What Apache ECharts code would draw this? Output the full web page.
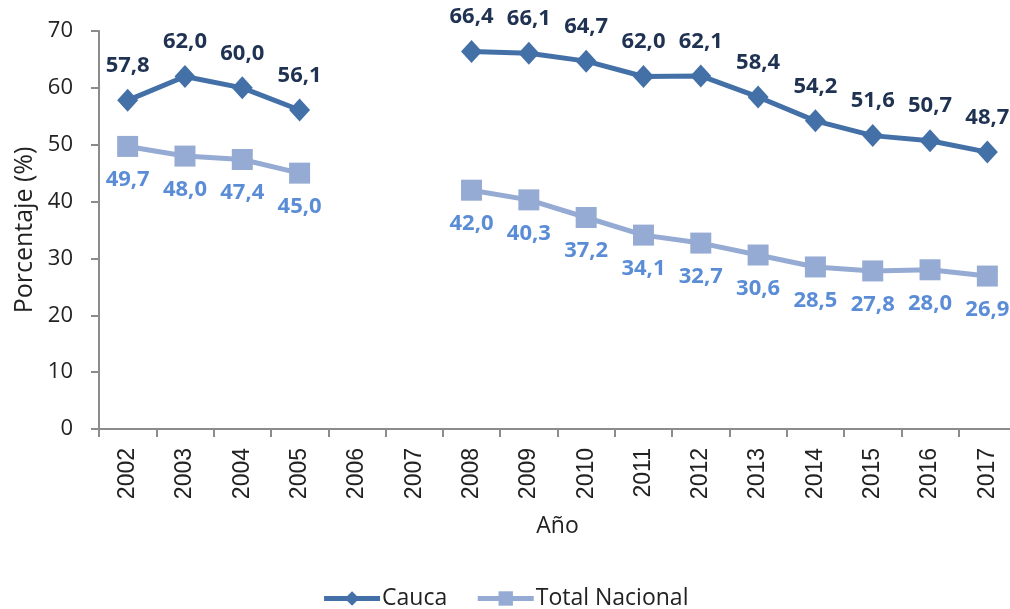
<!DOCTYPE html>
<html>
<head>
<meta charset="utf-8">
<script src="https://cdn.jsdelivr.net/npm/echarts@6/dist/echarts.min.js"></script>
<style>
  html, body { margin: 0; padding: 0; background: #fff; }
  #chart { width: 1010px; height: 609px; }
</style>
</head>
<body>
<div id="chart"></div>
<script>
var years = ['2002', '2003', '2004', '2005', '2006', '2007', '2008', '2009', '2010', '2011', '2012', '2013', '2014', '2015', '2016', '2017'];
var cauca = [57.8, 62.0, 60.0, 56.1, null, null, 66.4, 66.1, 64.7, 62.0, 62.1, 58.4, 54.2, 51.6, 50.7, 48.7];
var nacional = [49.7, 48.0, 47.4, 45.0, null, null, 42.0, 40.3, 37.2, 34.1, 32.7, 30.6, 28.5, 27.8, 28.0, 26.9];

var chartDom = document.getElementById('chart');
var myChart = echarts.init(chartDom);
var option;

var fontName = 'Open Sans';
function fmt(p) { return p.value == null ? '' : p.value.toFixed(1).replace('.', ','); }

option = {
  animation: false,
  textStyle: { fontFamily: fontName },
  grid: { left: 99, top: 31, width: 917, height: 398, outerBoundsMode: 'none', containLabel: false },
  legend: {
    top: 582,
    left: 'center',
    itemWidth: 56,
    itemHeight: 18,
    itemGap: 28,
    lineStyle: { width: 5 },
    textStyle: { fontSize: 23, color: '#222', padding: [0, 0, 0, -3] },
    data: ['Cauca', 'Total Nacional']
  },
  xAxis: {
    type: 'category',
    data: years,
    name: 'Año',
    nameLocation: 'middle',
    nameGap: 86,
    nameTextStyle: { fontSize: 23, color: '#222' },
    axisLine: { lineStyle: { color: '#8c8c8c', width: 2 } },
    axisTick: { show: true, length: 8, lineStyle: { color: '#8c8c8c', width: 2 } },
    axisLabel: { rotate: 90, fontSize: 23, color: '#222', margin: 19, fontFamily: 'Liberation Sans' }
  },
  yAxis: {
    type: 'value',
    min: 0,
    max: 70,
    interval: 10,
    name: 'Porcentaje (%)',
    nameLocation: 'middle',
    nameGap: 56,
    nameTextStyle: { fontSize: 25, color: '#222' },
    axisLine: { show: true, lineStyle: { color: '#8c8c8c', width: 2 } },
    axisTick: { show: true, length: 8, lineStyle: { color: '#8c8c8c', width: 2 } },
    axisLabel: { fontSize: 22, color: '#222', margin: 26 },
    splitLine: { show: false }
  },
  series: [
    {
      name: 'Cauca',
      type: 'line',
      data: cauca,
      connectNulls: false,
      symbol: 'diamond',
      symbolSize: [21, 23],
      lineStyle: { color: '#4470a8', width: 5 },
      itemStyle: { color: '#4470a8' },
      label: {
        show: true,
        position: 'top',
        distance: 12,
        formatter: fmt,
        fontSize: 22,
        fontWeight: 'bold',
        color: '#1f3251'
      }
    },
    {
      name: 'Total Nacional',
      type: 'line',
      data: nacional,
      connectNulls: false,
      symbol: 'rect',
      symbolSize: 21,
      lineStyle: { color: '#95abd3', width: 5 },
      itemStyle: { color: '#95abd3' },
      label: {
        show: true,
        position: 'bottom',
        distance: 12,
        formatter: fmt,
        fontSize: 22,
        fontWeight: 'bold',
        color: '#5b8dd6'
      }
    }
  ]
};

option && myChart.setOption(option);
</script>
</body>
</html>
